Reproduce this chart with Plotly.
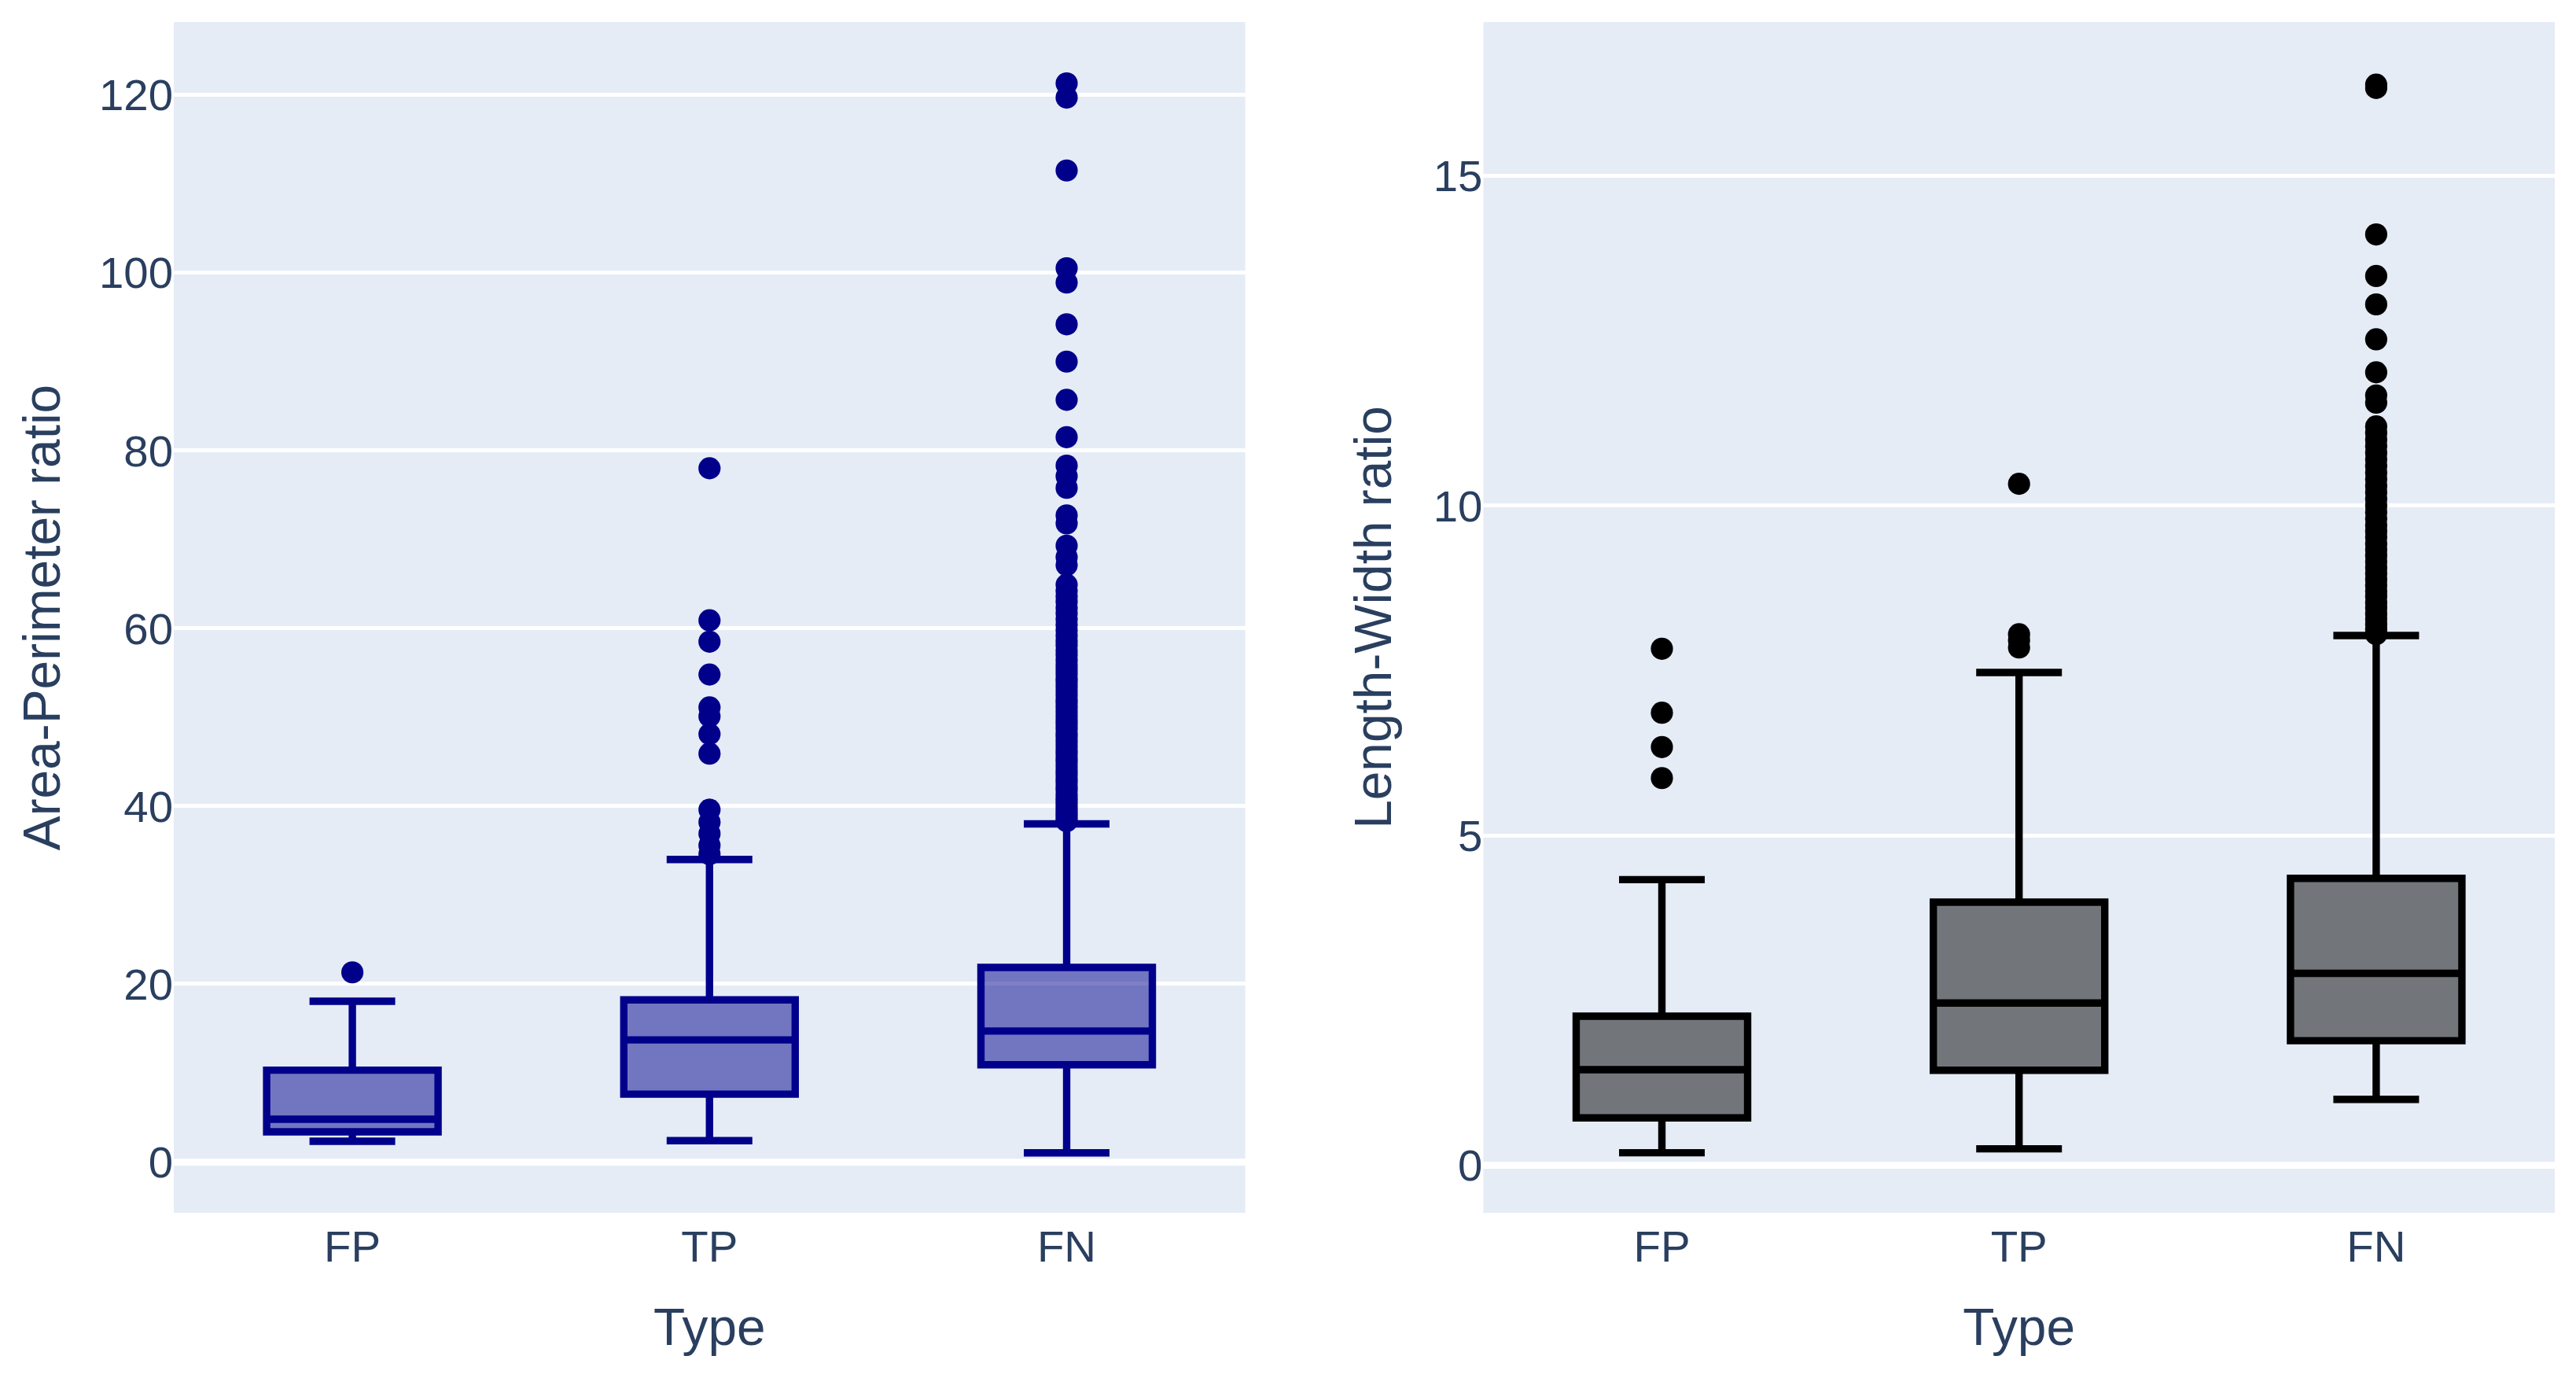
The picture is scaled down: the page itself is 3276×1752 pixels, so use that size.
import plotly.graph_objects as go
from plotly.subplots import make_subplots

categories = ["FP", "TP", "FN"]

# Area-Perimeter ratio box statistics
ap_q1 = [3.36, 7.6, 10.9]
ap_median = [4.78, 13.7, 14.7]
ap_q3 = [10.3, 18.2, 21.85]
ap_lower = [2.3, 2.37, 1.0]
ap_upper = [18.05, 34.0, 38.0]

ap_out_fp = [21.3]
ap_out_tp = [34.6, 35.6, 36.9, 38.2, 39.6, 45.9, 48.1, 50.1, 51.1, 54.8, 58.5, 60.9, 78.0]
ap_out_fn = [38.3, 38.6, 39.0, 39.3, 39.7, 40.1, 40.5, 40.9, 41.3, 41.8, 42.2, 42.7,
             43.1, 43.6, 44.0, 44.5, 45.0, 45.4, 45.9, 46.3, 46.8, 47.3, 47.8, 48.2,
             48.7, 49.2, 49.6, 50.1, 50.6, 51.1, 51.6, 52.0, 52.5, 53.0, 53.5, 54.0,
             54.4, 54.9, 55.4, 55.9, 56.4, 57.0, 57.5, 58.1, 58.6, 59.2, 59.8, 60.4,
             61.0, 61.7, 62.3, 63.0, 63.6, 64.2, 64.9, 67.1, 68.0, 69.3, 71.8, 72.7,
             75.8, 77.1, 78.3, 81.5, 85.7, 90.0, 94.2, 98.9, 100.5, 111.5, 119.7, 121.3]

# Length-Width ratio box statistics
lw_q1 = [0.72, 1.44, 1.89]
lw_median = [1.45, 2.46, 2.91]
lw_q3 = [2.26, 3.99, 4.35]
lw_lower = [0.19, 0.25, 1.0]
lw_upper = [4.33, 7.47, 8.03]

lw_out_fp = [5.87, 6.34, 6.86, 7.83]
lw_out_tp = [7.85, 7.96, 8.05, 10.33]
lw_out_fn = [8.05, 8.12, 8.2, 8.28, 8.36, 8.45, 8.53, 8.62, 8.7, 8.79, 8.88, 8.97,
             9.06, 9.15, 9.24, 9.33, 9.42, 9.52, 9.61, 9.7, 9.8, 9.9, 10.0, 10.1,
             10.2, 10.3, 10.4, 10.5, 10.6, 10.7, 10.8, 10.9, 11.0, 11.1, 11.2,
             11.56, 11.67, 12.02, 12.52, 13.05, 13.48, 14.11, 16.33, 16.38]

S = 4.7  # scale factor
LEFT_COLOR = "#00008B"
RIGHT_COLOR = "#000000"
FONT = "Arial, Liberation Sans, sans-serif"

fig = make_subplots(rows=1, cols=2, horizontal_spacing=0.1)

fig.add_trace(go.Box(
    x=categories, q1=ap_q1, median=ap_median, q3=ap_q3,
    lowerfence=ap_lower, upperfence=ap_upper,
    marker_color=LEFT_COLOR, line=dict(color=LEFT_COLOR, width=2 * S),
    width=0.48, whiskerwidth=0.5, boxpoints=False, showlegend=False,
), row=1, col=1)

for cat, vals in zip(categories, [ap_out_fp, ap_out_tp, ap_out_fn]):
    fig.add_trace(go.Scatter(
        x=[cat] * len(vals), y=vals, mode="markers",
        marker=dict(color=LEFT_COLOR, size=6 * S), showlegend=False,
    ), row=1, col=1)

fig.add_trace(go.Box(
    x=categories, q1=lw_q1, median=lw_median, q3=lw_q3,
    lowerfence=lw_lower, upperfence=lw_upper,
    marker_color=RIGHT_COLOR, line=dict(color=RIGHT_COLOR, width=2 * S),
    width=0.48, whiskerwidth=0.5, boxpoints=False, showlegend=False,
), row=1, col=2)

for cat, vals in zip(categories, [lw_out_fp, lw_out_tp, lw_out_fn]):
    fig.add_trace(go.Scatter(
        x=[cat] * len(vals), y=vals, mode="markers",
        marker=dict(color=RIGHT_COLOR, size=6 * S), showlegend=False,
    ), row=1, col=2)

axis_common = dict(
    tickfont=dict(size=12 * S, family=FONT, color="#2a3f5f"),
    title_font=dict(size=14 * S, family=FONT, color="#2a3f5f"),
    gridcolor="white", gridwidth=1 * S,
)

fig.update_xaxes(title_text="Type", categoryorder="array", categoryarray=categories,
                 range=[-0.5, 2.5], showgrid=False, ticklabelstandoff=5,
                 title_standoff=48, **axis_common)
fig.update_yaxes(zerolinecolor="white", zerolinewidth=2 * S, **axis_common)
fig.update_yaxes(title_text="Area-Perimeter ratio", range=[-5.75, 128.2],
                 tickvals=[0, 20, 40, 60, 80, 100, 120], title_standoff=27,
                 row=1, col=1)
fig.update_yaxes(title_text="Length-Width ratio", range=[-0.72, 17.33],
                 tickvals=[0, 5, 10, 15], title_standoff=31, row=1, col=2)

fig.update_layout(
    template="plotly",
    width=3268, height=1744,
    margin=dict(l=213, r=27, t=20, b=210),
    plot_bgcolor="#E5ECF6", paper_bgcolor="white",
    font=dict(family=FONT, color="#2a3f5f", size=12 * S),
)

fig.write_html("out.html")
